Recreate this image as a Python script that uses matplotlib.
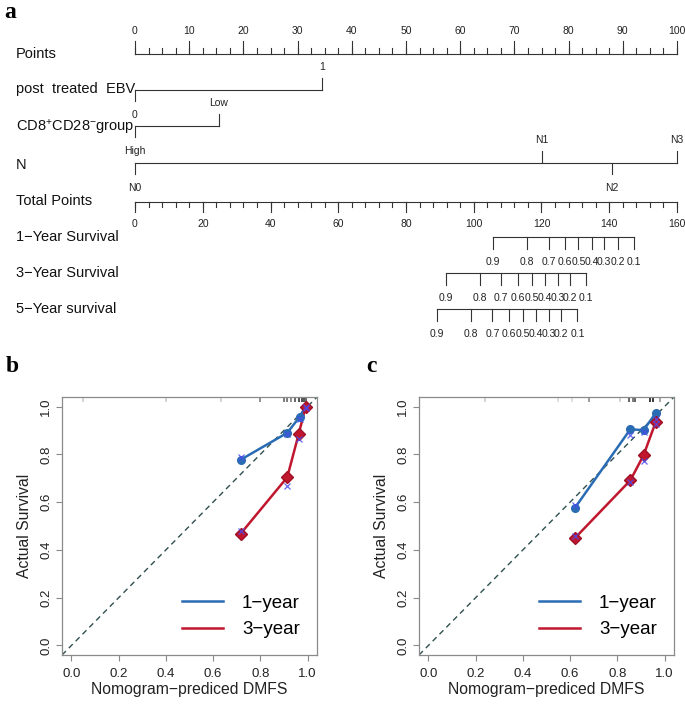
import matplotlib
matplotlib.use('Agg')
import matplotlib.pyplot as plt
import matplotlib.transforms as mtransforms
import numpy as np

plt.rcParams['font.family'] = ['Liberation Sans', 'DejaVu Sans']
plt.rcParams['mathtext.fontset'] = 'custom'
plt.rcParams['mathtext.rm'] = 'Liberation Sans'
plt.rcParams['mathtext.it'] = 'Liberation Sans:italic'
plt.rcParams['mathtext.bf'] = 'Liberation Sans:bold'

# ---------------- data ----------------
row_labels = ['Points', 'post  treated  EBV', r'CD8$^{+}$CD28$^{-}$group', 'N',
              'Total Points', '1\u2212Year Survival', '3\u2212Year Survival', '5\u2212Year survival']
points_major = np.arange(0, 101, 10)
points_minor = np.arange(0, 100.1, 2.5)
ebv_levels = ['0', '1']
ebv_points = [0, 34.5]
cd8_levels = ['High', 'Low']
cd8_points = [0, 15.5]
n_levels = ['N0', 'N1', 'N2', 'N3']
n_points = [0, 75, 88, 100]
total_major = np.arange(0, 161, 20)
total_minor = np.arange(0, 160.1, 4)
surv_labels = ['0.9', '0.8', '0.7', '0.6', '0.5', '0.4', '0.3', '0.2', '0.1']
surv1_total = [105.6, 115.6, 122.1, 126.9, 130.9, 135.0, 138.4, 142.5, 147.2]
surv3_total = [91.7, 101.9, 108.1, 113.0, 117.2, 121.0, 124.8, 128.5, 133.2]
surv5_total = [89.2, 99.2, 105.5, 110.4, 114.6, 118.3, 122.1, 125.8, 130.6]

# calibration panel b
b_pred_1 = [0.716, 0.914, 0.966, 0.992]
b_obs_1 = [0.777, 0.890, 0.956, 1.0]
b_bc_1 = [0.79, 0.885, 0.95, 0.998]
b_pred_3 = [0.716, 0.914, 0.963, 0.992]
b_obs_3 = [0.467, 0.704, 0.887, 1.0]
b_bc_3 = [0.48, 0.667, 0.866, 0.995]
b_rug = [0.047, 0.40, 0.635, 0.797, 0.90, 0.915, 0.93, 0.945, 0.965, 0.975, 0.985, 0.995]
b_rug_a = [0.2, 0.2, 0.2, 0.5, 0.6, 0.6, 0.5, 0.7, 0.8, 0.8, 0.8, 0.7]
# calibration panel c
c_pred_1 = [0.619, 0.855, 0.911, 0.962]
c_obs_1 = [0.574, 0.905, 0.901, 0.972]
c_bc_1 = [0.588, 0.88, 0.893, 0.95]
c_pred_3 = [0.619, 0.855, 0.911, 0.962]
c_obs_3 = [0.448, 0.691, 0.796, 0.934]
c_bc_3 = [0.46, 0.685, 0.774, 0.925]
c_rug = [0.24, 0.55, 0.61, 0.68, 0.81, 0.85, 0.865, 0.875, 0.94, 0.95, 0.98]
c_rug_a = [0.2, 0.15, 0.15, 0.45, 0.2, 0.7, 0.6, 0.7, 0.9, 0.9, 0.4]

W, H = 685, 704
fig = plt.figure(figsize=(W / 100, H / 100), dpi=100)


def px_axes(l, t, r, b):
    return [l / W, 1 - b / H, (r - l) / W, (b - t) / H]


LC = '#333333'
LW = 0.8
TFS = 7.5
RFS = 10.5

# ---------------- nomogram ----------------
ax = fig.add_axes(px_axes(135, 0, 677, 345))
ax.set_xlim(0, 100)
ax.set_ylim(345, 0)
ax.axis('off')
axT = ax.twiny()
axT.set_xlim(0, 160)
axT.set_ylim(345, 0)
axT.axis('off')

row_y = [54, 89, 127, 165, 201, 237, 273, 309]
lab_tr = mtransforms.blended_transform_factory(ax.transAxes, ax.transData)
for lab, y in zip(row_labels, row_y):
    ax.text((16 - 135) / 542, y, lab, transform=lab_tr, ha='left', va='center',
            fontsize=RFS, color='#111111', clip_on=False)

# Points axis
py = 54
ax.plot([0, 100], [py, py], color=LC, lw=LW, clip_on=False)
for v in points_minor:
    ax.plot([v, v], [py, py - 6], color=LC, lw=LW, clip_on=False)
for v in points_major:
    ax.plot([v, v], [py, py - 13], color=LC, lw=LW, clip_on=False)
    ax.text(v, 31, f'{v:g}', ha='center', va='center', fontsize=TFS, color='#222222')


def var_axis(axis, vals, labels, y):
    axis.plot([min(vals), max(vals)], [y, y], color=LC, lw=LW, clip_on=False)
    for i, (v, l) in enumerate(sorted(zip(vals, labels))):
        if i % 2 == 0:
            axis.plot([v, v], [y, y + 11], color=LC, lw=LW, clip_on=False)
            axis.text(v, y + 25, l, ha='center', va='center', fontsize=TFS, color='#222222')
        else:
            axis.plot([v, v], [y, y - 12], color=LC, lw=LW, clip_on=False)
            axis.text(v, y - 23, l, ha='center', va='center', fontsize=TFS, color='#222222')


var_axis(ax, ebv_points, ebv_levels, 90)
var_axis(ax, cd8_points, cd8_levels, 126.5)
var_axis(ax, n_points, n_levels, 163)

# Total points
ty = 202.5
axT.plot([0, 160], [ty, ty], color=LC, lw=LW, clip_on=False)
for v in total_minor:
    axT.plot([v, v], [ty, ty + 5], color=LC, lw=LW, clip_on=False)
for v in total_major:
    axT.plot([v, v], [ty, ty + 10], color=LC, lw=LW, clip_on=False)
    axT.text(v, 224, f'{v:g}', ha='center', va='center', fontsize=TFS, color='#222222')


def surv_axis(vals, y):
    axT.plot([min(vals), max(vals)], [y, y], color=LC, lw=LW, clip_on=False)
    for v, l in zip(vals, surv_labels):
        axT.plot([v, v], [y, y + 12], color=LC, lw=LW, clip_on=False)
        axT.text(v, y + 25, l, ha='center', va='center', fontsize=TFS, color='#222222')


surv_axis(surv1_total, 237)
surv_axis(surv3_total, 273)
surv_axis(surv5_total, 309)

# ---------------- calibration panels ----------------
BLUE = '#2A6CB3'
RED = '#C0172F'
XCOL = '#4B4BF0'
GRAY = '#8a8a8a'


def calib(axc, p1, o1, bc1, p3, o3, bc3, rug, rug_a):
    axc.set_xlim(-0.04, 1.04)
    axc.set_ylim(-0.04, 1.04)
    axc.plot([-0.04, 1.04], [-0.04, 1.04], ls=(0, (4, 3)), color='#2F4F4F', lw=1.0, zorder=2)
    rtr = mtransforms.blended_transform_factory(axc.transData, axc.transAxes)
    for x, a in zip(rug, rug_a):
        axc.plot([x, x], [0.98, 1.0], color='black', alpha=a, lw=1.2,
                 transform=rtr, solid_capstyle='butt', zorder=1)
    axc.plot(p1, o1, color=BLUE, lw=1.8, zorder=3, label='1\u2212year')
    axc.plot(p1, o1, 'o', color=BLUE, ms=5.5, zorder=4)
    axc.plot(p3, o3, color=RED, lw=1.8, zorder=3, label='3\u2212year')
    axc.plot(p3, o3, 'D', color=RED, mec='#A01025', ms=6.5, zorder=4)
    axc.plot(p1, bc1, 'x', color=XCOL, ms=4, mew=0.9, zorder=5, alpha=0.85)
    axc.plot(p3, bc3, 'x', color=XCOL, ms=4, mew=0.9, zorder=5, alpha=0.85)
    ticks = [0.0, 0.2, 0.4, 0.6, 0.8, 1.0]
    axc.set_xticks(ticks)
    axc.set_yticks(ticks)
    axc.set_xticklabels([f'{t:.1f}' for t in ticks])
    axc.set_yticklabels([f'{t:.1f}' for t in ticks], rotation=90, va='center')
    axc.tick_params(length=4, width=0.8, color=GRAY, labelsize=9.5, labelcolor='#222222', pad=3)
    axc.tick_params(axis='x', pad=5.5)
    for s in axc.spines.values():
        s.set_color(GRAY)
        s.set_linewidth(0.9)
    axc.set_xlabel('Nomogram\u2212prediced DMFS', fontsize=11.3, labelpad=1, color='#222222')
    axc.set_ylabel('Actual Survival', fontsize=11.3, labelpad=6, color='#222222')
    axc.legend(loc='lower left', bbox_to_anchor=(0.47, 0.065), frameon=False, fontsize=13.5,
               handlelength=2.2, handletextpad=1.0, labelspacing=0.5, borderpad=0,
               borderaxespad=0)


axb = fig.add_axes(px_axes(62, 397, 317, 655))
calib(axb, b_pred_1, b_obs_1, b_bc_1, b_pred_3, b_obs_3, b_bc_3, b_rug, b_rug_a)
axc = fig.add_axes(px_axes(419, 397, 674, 655))
calib(axc, c_pred_1, c_obs_1, c_bc_1, c_pred_3, c_obs_3, c_bc_3, c_rug, c_rug_a)

# panel letters
for letter, (x, y) in zip(['a', 'b', 'c'], [(4, 12), (6, 366), (366, 366)]):
    fig.text(x / W, 1 - y / H, letter, fontsize=17, fontweight='bold',
             family=['Liberation Serif', 'DejaVu Serif'], ha='left', va='center')

fig.savefig('out.png', dpi=100)
